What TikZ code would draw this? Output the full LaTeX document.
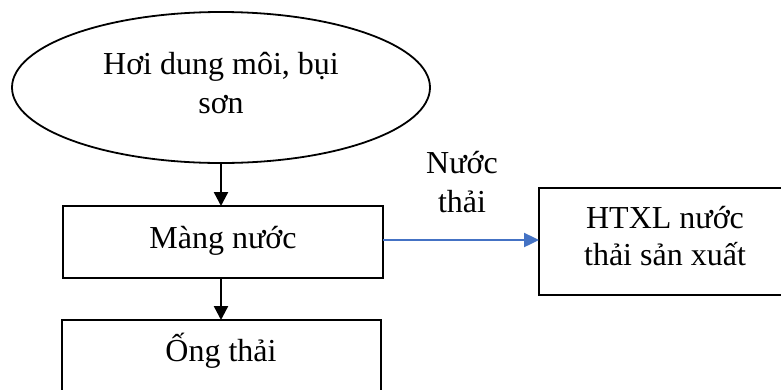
\documentclass[tikz,border=0pt]{standalone}
\usepackage{fontspec}
\setmainfont{Liberation Serif}
\usetikzlibrary{shapes.geometric,arrows.meta}
\definecolor{arrowblue}{HTML}{4472C4}
\begin{document}
\begin{tikzpicture}[x=1pt,y=-1pt,
  shapebox/.style={draw, line width=1.8pt, inner sep=0pt, outer sep=0pt},
  openbox/.style={inner sep=0pt, outer sep=0pt},
  edge/.style={line width=1.8pt},
  txt/.style={font=\fontsize{32}{38}\selectfont, inner sep=0pt, anchor=base},
  blackarrow/.style={-{Triangle[length=14pt,width=14pt]}, line width=2.4pt},
  bluearrow/.style={-{Triangle[length=15pt,width=14pt]}, line width=2.4pt, color=arrowblue}]
\useasboundingbox (0,0) rectangle (781,389);
\fill[white] (0,0) rectangle (781,389);

\node[shapebox, ellipse, minimum width=418pt, minimum height=151pt] (hoi) at (221,87.5) {};
\node[txt] (hoi1) at (221,74) {Hơi dung môi, bụi};
\node[txt] (hoi2) at (221,113) {sơn};

\node[shapebox, minimum width=320pt, minimum height=72pt] (mang) at (223,242) {};
\node[txt] (mangt) at (223,248) {Màng nước};

\node[openbox, minimum width=319pt, minimum height=80pt, anchor=north] (ong) at (221.5,320) {};
\draw[edge] (ong.south west) -- (ong.north west) -- (ong.north east) -- (ong.south east);
\node[txt] (ongt) at (221,361) {Ống thải};

\node[openbox, minimum width=250pt, minimum height=107pt, anchor=west] (htxl) at (539,241.5) {};
\draw[edge] (htxl.north east) -- (htxl.north west) -- (htxl.south west) -- (htxl.south east);
\node[txt] (htxl1) at (665,228) {HTXL nước};
\node[txt] (htxl2) at (665,265) {thải sản xuất};

\node[txt] (nt1) at (462,173) {Nước};
\node[txt] (nt2) at (462,212) {thải};

\draw[blackarrow] (hoi.south) -- (hoi.south |- mang.north);
\draw[blackarrow] (mang.south -| hoi.south) -- (ong.north -| hoi.south);
\draw[bluearrow] ([yshift=2pt]mang.east) -- ([yshift=2pt]mang.east -| htxl.west);
\end{tikzpicture}
\end{document}
